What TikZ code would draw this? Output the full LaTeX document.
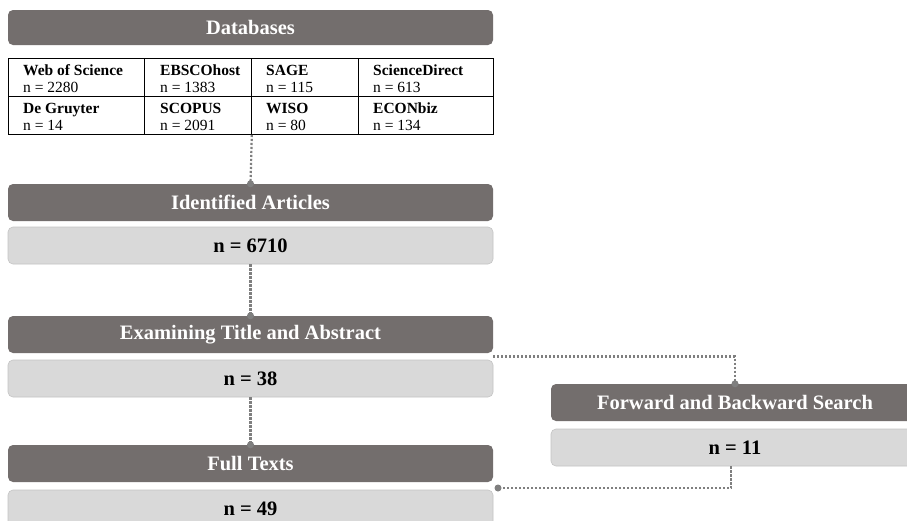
\documentclass[tikz,border=0pt]{standalone}
\usepackage{fontspec}
\setmainfont{Liberation Serif}
\usetikzlibrary{calc}
\definecolor{hdrfill}{HTML}{736E6D}
\definecolor{boxfill}{HTML}{D9D9D9}
\definecolor{boxline}{HTML}{C4C4C4}
\definecolor{linkgray}{HTML}{7F7F7F}
\tikzset{
  hdr/.style={fill=hdrfill, rounded corners=5pt, minimum width=485pt, minimum height=37pt,
    inner sep=0pt, text=white, font=\bfseries\fontsize{20.5}{24}\selectfont},
  count/.style={fill=boxfill, draw=boxline, line width=0.6pt, rounded corners=5pt,
    minimum width=485pt, minimum height=37pt, inner sep=0pt,
    font=\bfseries\fontsize{20.5}{24}\selectfont},
  cell/.style={draw=black, line width=0.8pt, minimum height=38pt, inner sep=0pt, anchor=north west},
  % the base anchor of a two-line cell text sits on its second line
  celltext/.style={anchor=base west, inner sep=0pt, align=left, font=\fontsize{15.5}{17}\selectfont},
  link/.style={draw=linkgray, line width=2.2pt, dash pattern=on 2.2pt off 1.8pt},
  enddot/.style={fill=linkgray, draw=none}
}
\begin{document}
\begin{tikzpicture}[x=1pt, y=-1pt]
\clip (0,0) rectangle (907,520);
\fill[white] (0,0) rectangle (907,520);

% header of the databases block
\node[hdr, minimum height=35pt] (db) at (250.5,27.5) {Databases};

% table of searched databases: cell frames
\node[cell, minimum width=136pt] (wos) at (8,58) {};
\node[cell, minimum width=107pt] (ebsco) at (144,58) {};
\node[cell, minimum width=107pt] (sage) at (251,58) {};
\node[cell, minimum width=135pt] (sd) at (358,58) {};
\node[cell, minimum width=136pt] (dg) at (8,96) {};
\node[cell, minimum width=107pt] (scopus) at (144,96) {};
\node[cell, minimum width=107pt] (wiso) at (251,96) {};
\node[cell, minimum width=135pt] (econ) at (358,96) {};

% table of searched databases: cell contents
\node[celltext] (wost) at ($(wos.north west)+(15,34)$) {\textbf{Web of Science}\\n = 2280};
\node[celltext] (ebscot) at ($(ebsco.north west)+(16,34)$) {\textbf{EBSCOhost}\\n = 1383};
\node[celltext] (saget) at ($(sage.north west)+(15,34)$) {\textbf{SAGE}\\n = 115};
\node[celltext] (sdt) at ($(sd.north west)+(15,34)$) {\textbf{ScienceDirect}\\n = 613};
\node[celltext] (dgt) at ($(dg.north west)+(15,34)$) {\textbf{De Gruyter}\\n = 14};
\node[celltext] (scopust) at ($(scopus.north west)+(16,34)$) {\textbf{SCOPUS}\\n = 2091};
\node[celltext] (wisot) at ($(wiso.north west)+(15,34)$) {\textbf{WISO}\\n = 80};
\node[celltext] (econt) at ($(econ.north west)+(15,34)$) {\textbf{ECONbiz}\\n = 134};

% main flow
\node[hdr] (ident) at (250.5,202.5) {Identified Articles};
\node[count] (n6710) at (250.5,245.5) {n = 6710};
\node[hdr] (exam) at (250.5,334.5) {Examining Title and Abstract};
\node[count] (n38) at (250.5,378.5) {n = 38};
\node[hdr] (full) at (250.5,463.5) {Full Texts};
\node[count] (n49) at (250.5,508.5) {n = 49};

% side branch
\node[hdr, minimum width=368pt] (fwd) at (735,402.5) {Forward and Backward Search};
\node[count, minimum width=368pt] (n11) at (735,447.5) {n = 11};

% free ends of the side connectors
\coordinate (branch) at ($(exam.south east)!0.5!(n38.north east)$);
\coordinate (merge) at (498,488);

% connectors
\draw[link] (scopus.south east) -- (ident.north);
\fill[enddot] (ident.north) circle (3.5pt);
\draw[link] (n6710.south) -- (exam.north);
\fill[enddot] (exam.north) circle (3.5pt);
\draw[link] (n38.south) -- (full.north);
\fill[enddot] (full.north) circle (3.5pt);
\draw[link] (branch) -| (fwd.north);
\fill[enddot] (fwd.north) circle (3.5pt);
\draw[link] ([xshift=-4pt]n11.south) |- (merge);
\fill[enddot] (merge) circle (3.5pt);
\end{tikzpicture}
\end{document}
